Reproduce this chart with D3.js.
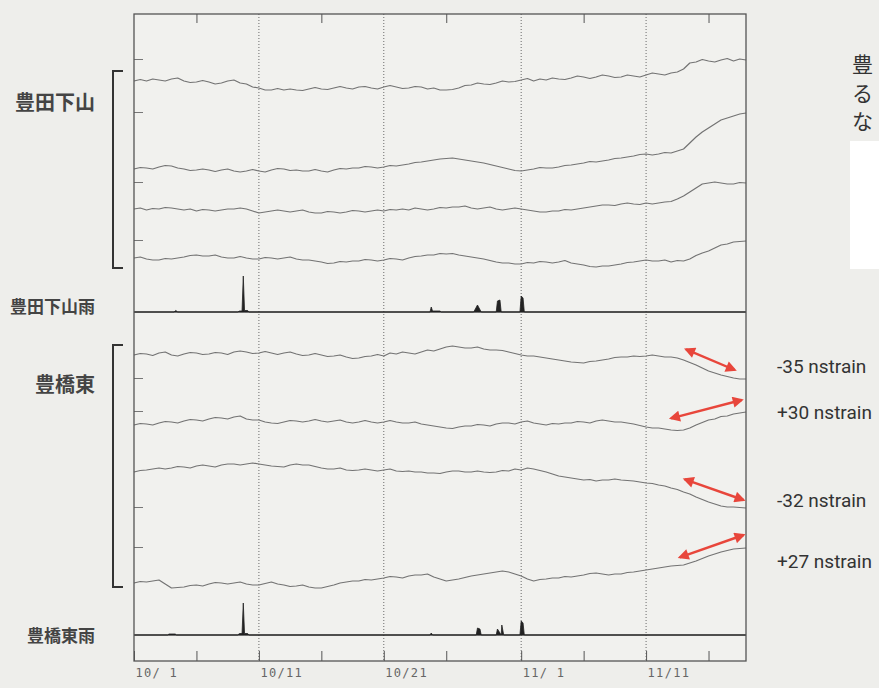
<!DOCTYPE html>
<html>
<head>
<meta charset="utf-8">
<script src="https://cdn.jsdelivr.net/npm/d3@7"></script>
<style>
  html, body { margin: 0; padding: 0; background: #eeeeeb; }
  svg { display: block; }
</style>
</head>
<body>
<svg id="chart" width="879" height="688"></svg>
<script>
// ---- data: strain readings every half day from 10/1 (nstrain, arbitrary offset per channel)

// 豊田下山, four channels
var toyotaCh1 = [
  231, 232.5, 231, 233, 232, 231, 233, 234, 231, 229.5,
  230, 231.5, 230, 228, 229, 231, 232, 229, 228, 225,
  224, 222, 222, 223.5, 222, 223, 222, 221.5, 223, 224.5,
  223, 222.5, 224, 225.5, 224, 223, 225, 225.5, 224, 223,
  225, 226.5, 225, 223.5, 224, 225.5, 225, 223, 224, 222,
  222, 222.5, 224, 226.5, 227, 229, 228, 227.5, 229, 231,
  230, 230.5, 232, 233.5, 231, 233, 232, 234, 233, 232.5,
  234, 236, 235, 233.5, 235, 237, 236, 234.5, 235, 237,
  236, 235, 237, 239, 238, 237, 239, 240, 243, 249,
  250, 252.5, 251, 250, 252, 253.5, 251, 253, 252
];
var toyotaCh2 = [
  143, 144.5, 144, 143, 145, 146.5, 146, 144, 143, 141.5,
  142, 143, 142, 140.5, 142, 143, 141, 140, 141, 142.5,
  141, 140, 142, 143.5, 143, 141.5, 142, 141, 141, 142.5,
  141, 140, 142, 143.5, 143, 144, 144, 145.5, 145, 144,
  145, 146.5, 146, 147, 148, 149.5, 150, 151, 152, 153,
  153.5, 154, 153, 152, 151, 150, 149, 147.5, 146, 144.5,
  143, 141.5, 141, 142, 143, 144.5, 144, 144, 145, 146.5,
  147, 148, 149, 150.5, 150, 151, 152, 153.5, 154, 155,
  156, 157.5, 158, 157, 158, 159.5, 159, 161, 163, 169,
  175, 180, 184, 188, 192, 194, 196, 198, 199
];
var toyotaCh3 = [
  103, 104, 102, 103.5, 103, 104.5, 104, 103, 102, 103,
  101, 102.5, 102, 101, 102, 103, 103, 104, 103, 101,
  99, 100, 101, 102, 101, 100, 101, 102, 100, 99,
  99, 100.5, 100, 99, 100, 101.5, 101, 100, 101, 102,
  101, 102.5, 102, 103, 102, 104, 103, 102, 103, 104.5,
  104, 105, 105, 106, 104, 103, 104, 105, 103, 102,
  103, 104, 103, 102, 101, 100, 100, 101, 101, 102.5,
  102, 103, 104, 105, 106, 107, 107, 106.5, 108, 109,
  108, 107.5, 109, 108, 109, 110, 110.5, 113, 116, 120,
  124, 128, 129, 130, 129, 128, 128, 129.5, 129
];
var toyotaCh4 = [
  54, 55, 53, 52, 52, 53.5, 53, 54, 55, 56.5,
  57, 56, 56, 57, 55, 54, 54, 55.5, 54, 53,
  53, 54.5, 54, 53, 54, 55, 53, 52, 52, 51,
  50, 48.5, 49, 50.5, 50, 51, 51, 52.5, 52, 51,
  52, 53.5, 53, 52, 54, 55.5, 56, 57, 57, 58.5,
  58, 58.5, 57, 56, 55, 54, 53, 51.5, 50, 49,
  49, 48, 48, 49.5, 49, 50.5, 50, 49, 50, 51.5,
  49, 48, 47, 45.5, 45, 46, 46, 47, 48, 49.5,
  50, 51, 52, 51, 51, 52, 50, 51.5, 51, 53,
  56.5, 59, 61, 64, 67, 68, 70, 70.5, 71
];

// 豊橋東, four channels
var toyohashiCh1 = [
  280, 281.5, 281, 279.5, 282, 283, 280, 279, 281, 282.5,
  282, 280.5, 281, 282.5, 282, 280.5, 283, 284, 283, 281.5,
  282, 283.5, 282, 280.5, 282, 283, 281, 279.5, 280, 281.5,
  280, 278.5, 279, 280, 278, 276.5, 277, 278.5, 279, 280.5,
  279, 282, 281, 283, 282, 281, 283, 285, 284, 286,
  288, 289, 288, 287, 287, 288, 286, 285, 285, 284.5,
  283, 281.5, 280, 279, 279, 278, 277, 276, 275, 274,
  273, 272.5, 272, 273.5, 274, 275, 276, 277.5, 278, 278,
  279, 278.5, 279, 280, 279, 278, 278, 277, 275, 272.5,
  270, 267, 264, 262, 260, 258.5, 257, 256, 256
];
var toyohashiCh2 = [
  210, 211.5, 211, 210, 212, 213.5, 213, 212, 214, 215.5,
  215, 214, 216, 217.5, 217, 216, 218, 219, 216, 215,
  215, 213, 212, 211.5, 213, 214.5, 214, 213, 214, 215.5,
  214, 213, 214, 215, 213, 212, 213, 214.5, 213, 212,
  213, 214.5, 213, 212, 212, 213, 211, 210, 209, 208,
  207, 206.5, 208, 209, 209, 210.5, 210, 209, 211, 212,
  212, 211, 213, 214, 212, 211, 210, 211.5, 211, 212,
  212, 213.5, 213, 212, 214, 215, 214, 213, 213, 212,
  211, 209.5, 208, 207, 207, 206, 205, 204.5, 205, 207,
  210, 212.5, 215, 216, 218.5, 219, 221, 222, 223
];
var toyohashiCh3 = [
  163, 164.5, 165, 166, 167, 166, 167, 168.5, 168, 167,
  169, 170, 169, 168, 170, 171, 171, 170, 171, 172,
  171, 170, 169, 168.5, 168, 170, 171, 170, 170, 168.5,
  167, 166, 166, 167, 165, 164.5, 165, 166, 165, 164,
  165, 166, 164, 163.5, 164, 163, 163, 162, 162, 161.5,
  163, 164, 164, 163, 163, 164, 163, 162.5, 163, 164.5,
  164, 166, 165, 167, 166, 164.5, 163, 161, 159, 158,
  157, 156, 155, 155.5, 154, 155, 155, 156, 155, 154.5,
  154, 153, 152, 151.5, 150, 149, 147, 145.5, 143, 141,
  138, 135.5, 133, 131, 129, 128, 128, 127.5, 127
];
var toyohashiCh4 = [
  52, 53.5, 53, 54, 55, 51, 47, 47.5, 48, 49.5,
  50, 49, 51, 52.5, 52, 51, 52, 53, 51, 50,
  50, 51.5, 53, 51, 50, 48.5, 49, 50, 48, 47,
  47, 48.5, 50, 52, 53, 54, 54, 55.5, 55, 56,
  57, 58.5, 58, 57, 59, 60, 60, 61, 58, 56,
  54, 55, 56, 57.5, 59, 60, 61, 62, 63, 64,
  63, 61, 59, 56, 54, 55.5, 56, 57, 57, 58.5,
  58, 59, 60, 61.5, 62, 61, 60, 61, 61, 62.5,
  63, 64, 65, 66, 67, 68, 69, 69.5, 70, 72,
  74, 76.5, 79, 81, 83, 84.5, 86, 86.5, 87
];

// rain, [day since 10/1, mm]
var toyotaRain = [
  [0, 0], [3.2, 0], [3.35, 1.5], [3.5, 0],
  [8.3, 0], [8.45, 1], [8.65, 1], [8.75, 36], [8.85, 1.5], [9.1, 1.5], [9.2, 0],
  [23.7, 0], [23.8, 5], [23.9, 1], [24.5, 1], [24.6, 0],
  [27.2, 0], [27.5, 7], [27.8, 0],
  [29.0, 0], [29.1, 11], [29.3, 12], [29.4, 0],
  [30.9, 0], [31.0, 16], [31.15, 14], [31.25, 0],
  [49, 0]
];
var toyohashiRain = [
  [0, 0], [2.7, 0], [2.8, 1], [3.3, 1], [3.4, 0],
  [8.3, 0], [8.45, 1.5], [8.65, 1.5], [8.75, 32], [8.85, 1.5], [9.1, 1.5], [9.2, 0],
  [23.7, 0], [23.8, 2], [23.9, 0],
  [27.4, 0], [27.5, 7], [27.7, 6], [27.8, 0],
  [29.0, 0], [29.1, 6], [29.4, 0], [29.45, 10], [29.6, 0],
  [30.9, 0], [31.0, 14], [31.15, 12], [31.25, 0],
  [49, 0]
];

// axis ticks (days since 10/1)
var majorDays = [0, 10, 20, 31, 41];
var majorLabels = ["10/ 1", "10/11", "10/21", "11/ 1", "11/11"];
var minorDays = [5, 15, 25, 36, 46];

// stations
var stationNames = ["豊田下山", "豊橋東"];
var rainNames = ["豊田下山雨", "豊橋東雨"];

// annotations on 豊橋東: arrow ends [day, nstrain], label anchor in nstrain
var strainNotes = [
  { text: "-35 nstrain", from: [44.2, 285.7], to: [48.1, 265], labelAt: 268 },
  { text: "+30 nstrain", from: [43.0, 216.7], to: [48.65, 235], labelAt: 222 },
  { text: "-32 nstrain", from: [44.1, 155.7], to: [48.8, 135], labelAt: 134 },
  { text: "+27 nstrain", from: [43.7, 77.7], to: [48.8, 100], labelAt: 73 }
];

/*=================================
	LAYOUT
**===============================*/

var plotL = 134, plotR = 746, plotT = 14, plotB = 661;
var sep1 = 312, sep2 = 635;

var svg = d3.select("#chart");
var x = d3.scaleLinear().domain([0, 49]).range([plotL, plotR]);
var y1 = d3.scaleLinear().domain([0, 298]).range([sep1, plotT]);
var y2 = d3.scaleLinear().domain([0, 323]).range([sep2, sep1]);
var r1 = d3.scaleLinear().domain([0, 40]).range([sep1, sep1 - 40]);
var r2 = d3.scaleLinear().domain([0, 40]).range([sep2, sep2 - 40]);

var ink = "#555", traceCol = "#737373", red = "#e8463b";

// plot background
svg.append("rect").attr("x", plotL).attr("y", plotT)
  .attr("width", plotR - plotL).attr("height", plotB - plotT)
  .attr("fill", "#f1f1ee");

// dotted day lines
svg.append("g").selectAll("line").data(majorDays.slice(1)).join("line")
  .attr("x1", function(d) { return x(d); }).attr("x2", function(d) { return x(d); })
  .attr("y1", plotT).attr("y2", plotB)
  .attr("stroke", "#6a6a6a").attr("stroke-width", 1).attr("stroke-dasharray", "1,2");

// section separators
[sep1, sep2].forEach(function(yy) {
  svg.append("line").attr("x1", plotL).attr("x2", plotR).attr("y1", yy).attr("y2", yy)
    .attr("stroke", ink).attr("stroke-width", 1.2);
});

// strain traces
function trace(yScale) {
  return d3.line().x(function(d, i) { return x(i * 0.5); }).y(function(d) { return yScale(d); });
}
var groups = [
  { y: y1, chans: [toyotaCh1, toyotaCh2, toyotaCh3, toyotaCh4] },
  { y: y2, chans: [toyohashiCh1, toyohashiCh2, toyohashiCh3, toyohashiCh4] }
];
groups.forEach(function(g) {
  svg.append("g").selectAll("path").data(g.chans).join("path")
    .attr("d", trace(g.y))
    .attr("fill", "none").attr("stroke", traceCol).attr("stroke-width", 1.2)
    .attr("stroke-linejoin", "round");
  // left ticks mark each channel's last reading
  var lastVals = g.chans.map(function(c) { return c[c.length - 1] + 1; });
  svg.append("g").attr("transform", "translate(" + plotL + ",0)")
    .call(d3.axisLeft(g.y).tickValues(lastVals).tickSize(-9).tickFormat(""))
    .call(function(a) {
      a.select(".domain").remove();
      a.selectAll("line").attr("stroke", "#777").attr("stroke-width", 1);
    });
});

// rain
var rainArea = function(rs) {
  return d3.area().x(function(d) { return x(d[0]); }).y0(rs(0)).y1(function(d) { return rs(d[1]); });
};
svg.append("path").datum(toyotaRain).attr("d", rainArea(r1)).attr("fill", "#222").attr("stroke", "#222").attr("stroke-width", 0.8);
svg.append("path").datum(toyohashiRain).attr("d", rainArea(r2)).attr("fill", "#222").attr("stroke", "#222").attr("stroke-width", 0.8);

// bottom axis: major ticks with labels, minor ticks
var xAxisG = svg.append("g").attr("transform", "translate(0," + plotB + ")")
  .call(d3.axisBottom(x).tickValues(majorDays).tickSize(-10).tickPadding(7)
    .tickFormat(function(d, i) { return majorLabels[i]; }));
xAxisG.select(".domain").remove();
xAxisG.selectAll("line").attr("stroke", ink);
xAxisG.selectAll("text").attr("text-anchor", "start").attr("dx", 1)
  .attr("font-family", "'DejaVu Sans Mono', monospace").attr("font-size", 12)
  .attr("letter-spacing", 1.3).attr("fill", "#666");

var minorG = svg.append("g").attr("transform", "translate(0," + plotB + ")")
  .call(d3.axisBottom(x).tickValues(minorDays).tickSize(-10).tickFormat(""));
minorG.select(".domain").remove();
minorG.selectAll("line").attr("stroke", ink);

var topG = svg.append("g").attr("transform", "translate(0," + plotT + ")")
  .call(d3.axisTop(x).tickValues(minorDays).tickSize(-9).tickFormat(""));
topG.select(".domain").remove();
topG.selectAll("line").attr("stroke", ink);

// frame
svg.append("rect").attr("x", plotL).attr("y", plotT)
  .attr("width", plotR - plotL).attr("height", plotB - plotT)
  .attr("fill", "none").attr("stroke", ink).attr("stroke-width", 1.3);

// station labels and brackets
var jp = "'Noto Sans CJK JP', sans-serif";
var labelRows = [
  { text: stationNames[0], y: 110, size: 20 },
  { text: rainNames[0], y: 313, size: 17 },
  { text: stationNames[1], y: 392, size: 20 },
  { text: rainNames[1], y: 642, size: 17 }
];
svg.append("g").selectAll("text").data(labelRows).join("text")
  .attr("x", 95).attr("y", function(d) { return d.y; })
  .attr("text-anchor", "end").attr("font-family", jp).attr("font-weight", 700)
  .attr("font-size", function(d) { return d.size; }).attr("fill", "#444")
  .text(function(d) { return d.text; });

var brackets = [[71, 268], [345, 587]];
svg.append("g").selectAll("path").data(brackets).join("path")
  .attr("d", function(d) { return "M123," + d[0] + "H113V" + d[1] + "H123"; })
  .attr("fill", "none").attr("stroke", "#333").attr("stroke-width", 2);

// red arrows + nstrain labels
svg.append("defs").append("marker").attr("id", "head")
  .attr("viewBox", "0 0 10 10").attr("refX", 8).attr("refY", 5)
  .attr("markerWidth", 5.2).attr("markerHeight", 4.6).attr("orient", "auto-start-reverse")
  .append("path").attr("d", "M0,0L10,5L0,10Z").attr("fill", red);

svg.append("g").selectAll("line").data(strainNotes).join("line")
  .attr("x1", function(d) { return x(d.from[0]); }).attr("y1", function(d) { return y2(d.from[1]); })
  .attr("x2", function(d) { return x(d.to[0]); }).attr("y2", function(d) { return y2(d.to[1]); })
  .attr("stroke", red).attr("stroke-width", 2.4)
  .attr("marker-start", "url(#head)").attr("marker-end", "url(#head)");

svg.append("g").selectAll("text").data(strainNotes).join("text")
  .attr("x", 777).attr("y", function(d) { return y2(d.labelAt) + 6; })
  .attr("font-family", "'Liberation Sans Narrow', 'Roboto', sans-serif").attr("font-size", 19)
  .attr("fill", "#333").text(function(d) { return d.text; });

// cut-off page text at top right, one text element, one glyph per line
var cutText = svg.append("text").attr("x", 852).attr("y", 72)
  .attr("font-family", jp).attr("font-size", 21).attr("fill", "#333");
cutText.selectAll("tspan").data(["豊", "る", "な"]).join("tspan")
  .attr("x", 852).attr("dy", function(d, i) { return i === 0 ? 0 : 28.5; })
  .text(function(d) { return d; });
svg.append("rect").attr("x", 850).attr("y", 141).attr("width", 29).attr("height", 128).attr("fill", "#fff");
</script>
</body>
</html>
